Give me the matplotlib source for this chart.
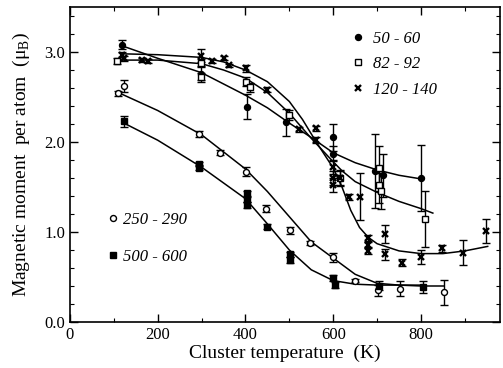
import matplotlib
matplotlib.use("Agg")
import matplotlib.pyplot as plt
from matplotlib.lines import Line2D
from matplotlib.ticker import MultipleLocator

plt.rcParams['font.family'] = ['Liberation Serif', 'DejaVu Serif']
plt.rcParams['mathtext.fontset'] = 'custom'
plt.rcParams['mathtext.rm'] = 'Liberation Serif'

# size groups (atoms per cluster)
labels = ['50 - 60', '82 - 92', '120 - 140', '250 - 290', '500 - 600']

# 50 - 60 : filled circles
t1 = [118, 298, 404, 493, 600, 600, 695, 713, 799]
m1 = [3.08, 2.76, 2.39, 2.22, 2.05, 1.87, 1.68, 1.63, 1.60]
e1 = [0.05, 0.07, 0.14, 0.15, 0.15, 0.08, 0.41, 0.24, 0.37]

# 82 - 92 : open squares
t2 = [108, 298, 298, 402, 410, 500, 615, 705, 705, 708, 808]
m2 = [2.90, 2.88, 2.72, 2.67, 2.61, 2.30, 1.60, 1.71, 1.52, 1.46, 1.14]
e2 = [0.03, 0.04, 0.05, 0.05, 0.05, 0.06, 0.08, 0.25, 0.20, 0.20, 0.31]

# 120 - 140 : crosses
t3 = [118, 123, 165, 178, 298, 323, 350, 363, 402, 450, 521, 560, 560,
      600, 600, 600, 615, 637, 661, 679, 679, 679, 717, 717, 757, 800,
      848, 895, 949]
m3 = [2.97, 2.93, 2.91, 2.90, 2.96, 2.90, 2.93, 2.85, 2.82, 2.58, 2.14,
      2.15, 2.02, 1.72, 1.60, 1.52, 1.60, 1.39, 1.39, 0.93, 0.86, 0.79,
      0.98, 0.75, 0.66, 0.72, 0.82, 0.77, 1.01]
e3 = [0.03, 0.03, 0.02, 0.02, 0.07, 0.02, 0.02, 0.02, 0.04, 0.03, 0.03,
      0.03, 0.03, 0.08, 0.08, 0.08, 0.09, 0.03, 0.26, 0.04, 0.04, 0.04,
      0.10, 0.06, 0.04, 0.08, 0.04, 0.14, 0.13]

# 250 - 290 : open circles
t4 = [109, 123, 294, 341, 402, 446, 501, 546, 599, 649, 701, 753, 852]
m4 = [2.54, 2.62, 2.09, 1.88, 1.67, 1.26, 1.02, 0.88, 0.72, 0.46, 0.35, 0.37, 0.33]
e4 = [0.03, 0.07, 0.03, 0.03, 0.05, 0.04, 0.04, 0.02, 0.05, 0.02, 0.06, 0.08, 0.14]

# 500 - 600 : filled squares
t5 = [123, 295, 295, 404, 404, 404, 450, 501, 501, 599, 604, 705, 804]
m5 = [2.23, 1.76, 1.71, 1.43, 1.36, 1.30, 1.06, 0.75, 0.69, 0.49, 0.41, 0.40, 0.39]
e5 = [0.06, 0.02, 0.02, 0.03, 0.03, 0.03, 0.03, 0.03, 0.03, 0.03, 0.03, 0.05, 0.07]

# guide-to-the-eye curves
f1_t = [118, 200, 300, 400, 450, 500, 550, 600, 650, 700, 750, 800]
f1_m = [3.07, 2.93, 2.77, 2.52, 2.38, 2.21, 2.05, 1.88, 1.77, 1.69, 1.63, 1.59]
f2_t = [108, 200, 300, 350, 400, 450, 500, 550, 600, 620, 650, 700, 750, 800, 827]
f2_m = [2.91, 2.91, 2.87, 2.80, 2.71, 2.55, 2.32, 2.04, 1.78, 1.68, 1.56, 1.44, 1.34, 1.26, 1.21]
f3_t = [118, 200, 300, 350, 400, 450, 500, 530, 560, 580, 600, 620, 640, 660,
        680, 700, 750, 800, 850, 900, 952]
f3_m = [2.98, 2.97, 2.94, 2.89, 2.80, 2.67, 2.45, 2.25, 2.01, 1.86, 1.71, 1.50,
        1.24, 1.05, 0.94, 0.87, 0.79, 0.76, 0.76, 0.79, 0.84]
f4_t = [110, 200, 300, 400, 450, 500, 550, 600, 650, 700, 750, 800, 852]
f4_m = [2.55, 2.35, 2.08, 1.70, 1.45, 1.17, 0.89, 0.71, 0.53, 0.43, 0.41, 0.40, 0.40]
f5_t = [123, 200, 300, 400, 450, 500, 550, 600, 650, 700, 750, 800]
f5_m = [2.21, 2.02, 1.72, 1.37, 1.09, 0.80, 0.58, 0.46, 0.42, 0.41, 0.41, 0.41]

fig = plt.figure(figsize=(5.03, 3.68), dpi=100)
ax = fig.add_axes([0.139, 0.125, 0.855, 0.856])

for ft, fm in [(f1_t, f1_m), (f2_t, f2_m), (f3_t, f3_m), (f4_t, f4_m), (f5_t, f5_m)]:
    ax.plot(ft, fm, color='black', lw=1.1)

styles = [
    dict(marker='o', ms=4.3, mfc='black', mec='black'),
    dict(marker='s', ms=4.0, mfc='white', mec='black', mew=1.0),
    dict(marker='x', ms=4.5, mec='black', mew=1.7),
    dict(marker='o', ms=4.3, mfc='white', mec='black', mew=1.0),
    dict(marker='s', ms=4.3, mfc='black', mec='black'),
]
data = [(t1, m1, e1), (t2, m2, e2), (t3, m3, e3), (t4, m4, e4), (t5, m5, e5)]
for (t, m, e), st in zip(data, styles):
    ax.errorbar(t, m, yerr=e, fmt='none', ecolor='black', elinewidth=1.0,
                capsize=3, capthick=1.0, zorder=3)
    ax.plot(t, m, ls='none', zorder=4, **st)

ax.set_xlim(0, 980)
ax.set_ylim(0, 3.5)
ax.xaxis.set_major_locator(MultipleLocator(200))
ax.xaxis.set_minor_locator(MultipleLocator(100))
ax.yaxis.set_major_locator(MultipleLocator(1.0))
ax.yaxis.set_minor_locator(MultipleLocator(0.2))
ax.yaxis.set_major_formatter(plt.FormatStrFormatter('%.1f'))
ax.tick_params(which='both', direction='in', top=True, right=True, labelsize=12)
ax.tick_params(which='major', length=6, width=1.0)
ax.tick_params(which='minor', length=3, width=0.8)
for s in ax.spines.values():
    s.set_linewidth(1.2)

ax.set_xlabel('Cluster temperature  (K)', fontsize=14, labelpad=1)
ax.set_ylabel('Magnetic moment  per atom  (μ$_\\mathregular{B}$)', fontsize=14, labelpad=9)

# two marker-only legends
h = [Line2D([], [], ls='none', **st) for st in styles]
kw = dict(frameon=False, handlelength=0.8, borderaxespad=0,
          borderpad=0, prop={'style': 'italic', 'size': 12})
leg1 = ax.legend(h[:3], labels[:3], loc='upper left', bbox_to_anchor=(0.655, 0.925),
                 labelspacing=0.58, handletextpad=0.5, **kw)
ax.add_artist(leg1)
ax.legend(h[3:], labels[3:], loc='upper left', bbox_to_anchor=(0.085, 0.35),
          labelspacing=1.25, handletextpad=0.2, **kw)

fig.savefig('out.png', dpi=100)
